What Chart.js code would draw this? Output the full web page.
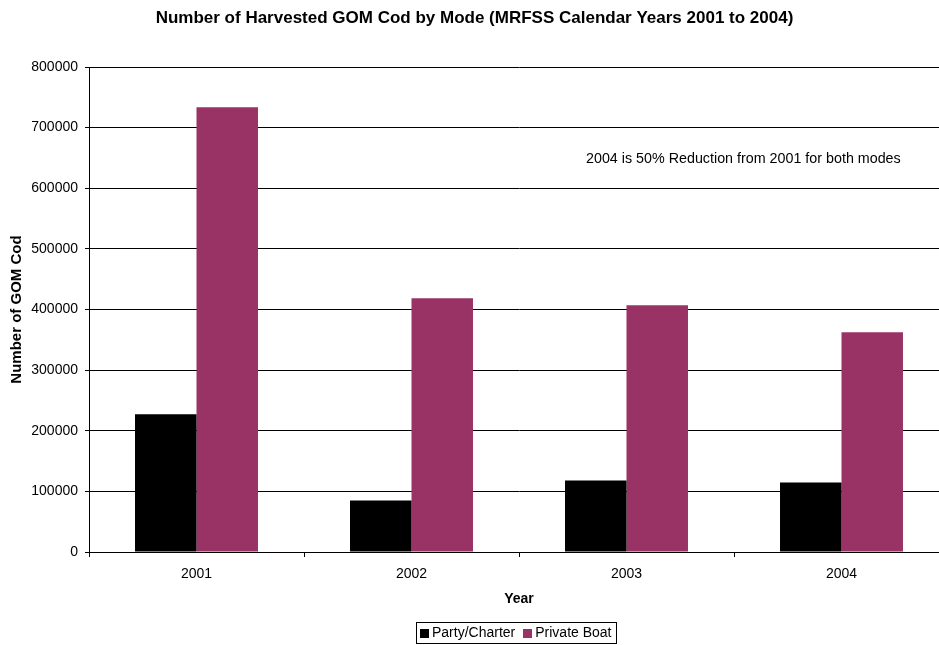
<!DOCTYPE html>
<html><head><meta charset="utf-8">
<script src="https://cdn.jsdelivr.net/npm/chart.js@4.4.0/dist/chart.umd.min.js"></script>
<style>html,body{margin:0;padding:0;overflow:hidden;background:#fff}#wrap{width:952px;height:645px;position:relative}</style>
</head><body><div id="wrap"><canvas id="c"></canvas></div>
<script>
const categories = ['2001', '2002', '2003', '2004'];
const partyCharter = [227200, 84900, 117900, 114600];
const privateBoat = [733500, 418600, 407100, 362600];
const seriesNames = ['Party/Charter', 'Private Boat'];
const yMin = 0, yMax = 800000, yStep = 100000;
const chartTitle = 'Number of Harvested GOM Cod by Mode (MRFSS Calendar Years 2001 to 2004)';
const xTitle = 'Year';
const yTitle = 'Number of GOM Cod';
const noteText = '2004 is 50% Reduction from 2001 for both modes';

const FONT = "'Liberation Sans', Arial, sans-serif";
Chart.defaults.font.family = FONT;
Chart.defaults.color = '#000';

const boxLegend = {
  id: 'boxLegend',
  afterDraw(chart) {
    const ctx = chart.ctx, ca = chart.chartArea;
    ctx.save();
    ctx.font = '14px ' + FONT;
    const sq = 9, gapSq = 3, gapItem = 8, padL = 4, padR = 4;
    const items = chart.data.datasets.map(d => ({label: d.label, color: d.backgroundColor, w: ctx.measureText(d.label).width}));
    let total = padL + padR;
    items.forEach((it, i) => { total += sq + gapSq + it.w + (i ? gapItem : 0); });
    const cx = (ca.left + ca.right) / 2 - 3;
    const x0 = Math.round(cx - total / 2), h = 21, y0 = chart.height - 23;
    ctx.strokeStyle = '#000'; ctx.lineWidth = 1;
    ctx.strokeRect(x0 + 0.5, y0 + 0.5, Math.round(total), h);
    let x = x0 + padL; const my = y0 + h / 2 + 1;
    items.forEach((it, i) => {
      if (i) x += gapItem;
      ctx.fillStyle = it.color;
      ctx.fillRect(Math.round(x), Math.round(my - sq / 2), sq, sq);
      x += sq + gapSq;
      ctx.fillStyle = '#000'; ctx.textBaseline = 'middle'; ctx.textAlign = 'left';
      ctx.fillText(it.label, x, my);
      x += it.w;
    });
    ctx.restore();
  }
};

const note = {
  id: 'note',
  afterDraw(chart) {
    const ctx = chart.ctx, ca = chart.chartArea;
    ctx.save();
    ctx.font = '14.3px ' + FONT;
    ctx.fillStyle = '#000'; ctx.textAlign = 'left'; ctx.textBaseline = 'middle';
    ctx.fillText(noteText, ca.left + 497, ca.top + 92);
    ctx.restore();
  }
};

new Chart(document.getElementById('c'), {
  type: 'bar',
  data: {
    labels: categories,
    datasets: [
      {label: seriesNames[0], data: partyCharter, backgroundColor: '#000000', borderWidth: 0},
      {label: seriesNames[1], data: privateBoat, backgroundColor: '#993366', borderWidth: 0}
    ]
  },
  options: {
    responsive: true, maintainAspectRatio: false, animation: false, devicePixelRatio: 1,
    datasets: {bar: {barPercentage: 1, categoryPercentage: 0.572}},
    layout: {padding: {left: 0, right: 3, top: 0, bottom: 0}},
    plugins: {
      legend: {display: false},
      tooltip: {enabled: false},
      title: {display: true, text: chartTitle, color: '#000', font: {size: 17, weight: 'bold'}, padding: {top: 8, bottom: 38.6}}
    },
    scales: {
      x: {
        offset: true,
        grid: {offset: true, drawOnChartArea: false, drawTicks: true, tickLength: 5, color: '#000'},
        border: {display: true, color: '#000', width: 1},
        ticks: {padding: 9, font: {size: 14}, color: '#000', maxRotation: 0},
        title: {display: true, text: xTitle, color: '#000', font: {size: 14, weight: 'bold'}, padding: {top: 0, bottom: 37}},
        afterFit(s) { s.height = 93; }
      },
      y: {
        min: yMin, max: yMax,
        ticks: {stepSize: yStep, padding: 7, font: {size: 14}, color: '#000', callback: v => String(v)},
        grid: {color: '#000', tickLength: 4},
        border: {display: true, color: '#000', width: 1},
        title: {display: true, text: yTitle, color: '#000', font: {size: 15, weight: 'bold'}, padding: {top: 8, bottom: 0}},
        afterFit(s) { s.width = 89; }
      }
    }
  },
  plugins: [boxLegend, note]
});
</script></body></html>
